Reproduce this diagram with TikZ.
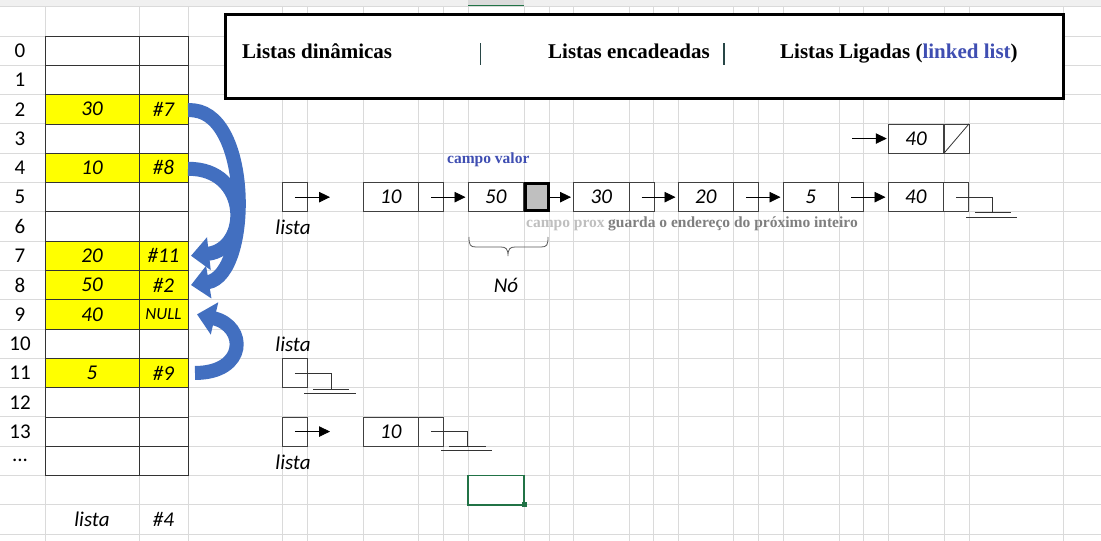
\documentclass[tikz,border=0pt]{standalone}
\usepackage{fontspec}
\setmainfont{Liberation Serif}
\newfontfamily\calfont{Carlito}
\usetikzlibrary{arrows.meta}
\definecolor{gridc}{RGB}{218,218,218}
\definecolor{yel}{RGB}{255,255,0}
\definecolor{arrblue}{RGB}{66,111,192}
\definecolor{hdrblue}{RGB}{63,78,178}
\definecolor{lgray}{RGB}{191,191,191}
\definecolor{mgray}{RGB}{127,127,127}
\definecolor{xlgreen}{RGB}{33,115,70}
\definecolor{sepc}{RGB}{40,70,70}
\tikzset{
 gridline/.style={draw=gridc, line width=0.9pt},
 tcell/.style={draw=black!80, line width=0.8pt, minimum height=29.3pt, inner sep=0pt, outer sep=0pt, font=\calfont\itshape\fontsize{21}{24}\selectfont},
 tcellA/.style={tcell, minimum width=94pt},
 tcellB/.style={tcell, minimum width=49pt},
 rownum/.style={font=\calfont\fontsize{21}{24}\selectfont, inner sep=0pt},
 valcell/.style={draw=black!75, fill=white, line width=0.8pt, minimum width=55.5pt, minimum height=29.3pt, inner sep=0pt, outer sep=0pt, font=\calfont\itshape\fontsize{21}{24}\selectfont},
 ptrcell/.style={draw=black!75, fill=white, line width=0.8pt, minimum width=25pt, minimum height=29.3pt, inner sep=0pt, outer sep=0pt},
 ptr/.style={draw=black, line width=0.8pt, -{Triangle[length=11pt,width=10.5pt]}},
 wire/.style={draw=black!80, line width=0.8pt},
 lbl/.style={font=\calfont\itshape\fontsize{21}{24}\selectfont, inner sep=0pt},
 bluearrow/.style={draw=arrblue, line width=14pt, -{Triangle[length=18pt,width=32pt]}},
 hdr/.style={font=\bfseries\fontsize{21}{24}\selectfont, inner sep=0pt, anchor=base west},
 note/.style={font=\bfseries\fontsize{15.5}{18}\selectfont, inner sep=0pt, anchor=base west},
}
\begin{document}
\begin{tikzpicture}[x=1pt,y=-1pt]
\useasboundingbox (0,0) rectangle (1101,541);
\fill[white] (0,0) rectangle (1101,541);
% top header strip
\fill[gray!12] (0,0) rectangle (1101,6);
\fill[gray!28] (468,0) rectangle (524,6);
\draw[xlgreen, line width=1.5pt] (468,5.5) -- (524,5.5);
% grid
\foreach \k in {-1,...,17} \draw[gridline] (0,{36+29.3*\k}) -- (1101,{36+29.3*\k});
\foreach \x in {45,139,188,282,307.5,363,418.5,443.5,468,524,549,573.5,629,653.5,678,733.5,758,783,839,863.5,888,944,969,1063}
  \draw[gridline] (\x,6) -- (\x,541);
% left table
\foreach \k/\v/\p/\f in {0/{}/{}/white,1/{}/{}/white,2/30/\#7/yel,3/{}/{}/white,4/10/\#8/yel,5/{}/{}/white,6/{}/{}/white,7/20/\#11/yel,8/50/\#2/yel,9/40/{\fontsize{17}{20}\selectfont NULL}/yel,10/{}/{}/white,11/5/\#9/yel,12/{}/{}/white,13/{}/{}/white,14/{}/{}/white}{
  \node[tcellA, fill=\f] (ca\k) at (92,{50.65+29.3*\k}) {\v};
  \node[tcellB, fill=\f] (cb\k) at (163.5,{50.65+29.3*\k}) {\p};
}
\foreach \k in {0,...,13} \node[rownum] (rn\k) at (20,{50.65+29.3*\k}) {\k};
\node[rownum] (rn14) at (20,{50.65+29.3*14}) {...};
\node[lbl] (tl) at (92,519.5) {lista};
\node[lbl] (tp) at (163.5,519.5) {\#4};
% blue curved arrows
\draw[bluearrow] ([yshift=-1pt]cb2.east) .. controls (252,106) and (252,275) .. ([xshift=3pt]cb8.east);
\draw[bluearrow] ([yshift=-1pt]cb4.east) .. controls (250,168) and (250,249) .. ([xshift=3pt]cb7.east);
\draw[bluearrow] ([xshift=7pt]cb11.east) .. controls (247,373) and (247,326) .. ([xshift=9pt]cb9.east);
% header box
\draw[line width=3pt, fill=white] (225,14) rectangle (1063,98);
\node[hdr] (h1) at (242,58) {Listas dinâmicas};
\node[hdr] (h2) at (548,58) {Listas encadeadas};
\node[hdr] (h3) at (780,58) {Listas Ligadas (\textcolor{hdrblue}{linked list})};
\draw[sepc, line width=1.3pt] (480.5,43) -- (480.5,65);
\draw[sepc, line width=1.3pt] (724,43) -- (724,65);
% main linked list
\node[ptrcell] (l1) at (294.75,197.15) {};
\coordinate (l1end) at (330,197.15);
\foreach \i/\b/\v in {1/363/10,2/468/50,3/573.5/30,4/678/20,5/783/5,6/888/40}{
  \node[valcell] (v\i) at (\b+27.75,197.15) {\v};
  \node[ptrcell] (p\i) at (\b+68,197.15) {};
}
\node[ptrcell, fill=lgray, draw=black, line width=3pt, minimum width=23pt, minimum height=27.5pt] (p2) at (536.5,197.15) {};
\draw[ptr] (l1.center) -- (l1end);
\draw[ptr, shorten >=2.5pt] (p1.center) -- (v2.west);
\draw[ptr, shorten >=2.5pt] (p2.east) -- (v3.west);
\draw[ptr, shorten >=2.5pt] (p3.center) -- (v4.west);
\draw[ptr, shorten >=2.5pt] (p4.center) -- (v5.west);
\draw[ptr, shorten >=2.5pt] (p5.center) -- (v6.west);
\coordinate (g1a) at (992,197.15);
\coordinate (g1b) at (992,212.3);
\draw[wire] (p6.center) -- (g1a) -- (g1b);
\draw[wire] (975,212.3) -- (1011,212.3);
\draw[wire] (966,217.3) -- (1017,217.3);
\node[lbl] (lista1) at (293,227) {lista};
% top single node
\node[valcell] (v7) at (916,138.55) {40};
\node[ptrcell] (p7) at (956.5,138.55) {};
\draw[wire] (p7.south west) -- (p7.north east);
\coordinate (a7) at (852,138.55);
\draw[ptr, shorten >=1.5pt] (a7) -- (v7.west);
% annotations
\node[note, text=hdrblue] (cv) at (447,163) {campo valor};
\node[note, text=lgray] (cp) at (526,227.5) {campo prox};
\node[note, text=mgray] (gd) at (608,227.5) {guarda o endereço do próximo inteiro};
\draw[black!65, line width=0.8pt] (469,237) .. controls (469,245) and (470,247) .. (476,247) -- (501,247) .. controls (506,247) and (508,249) .. (508,256) .. controls (508,249) and (510,247) .. (515,247) -- (541,247) .. controls (547,247) and (548,245) .. (548,237);
\node[lbl] (no) at (506,285) {Nó};
% empty list
\node[lbl] (lista2) at (293,344) {lista};
\node[ptrcell] (l2) at (294.75,372.95) {};
\coordinate (g2a) at (331,372.95);
\coordinate (g2b) at (331,389);
\draw[wire] (l2.center) -- (g2a) -- (g2b);
\draw[wire] (313,389) -- (349,389);
\draw[wire] (304,393.3) -- (356,393.3);
% one-element list
\node[ptrcell] (l3) at (294.75,431.55) {};
\coordinate (l3end) at (330,431.55);
\node[valcell] (v8) at (390.75,431.55) {10};
\node[ptrcell] (p8) at (431,431.55) {};
\draw[ptr] (l3.center) -- (l3end);
\coordinate (g3a) at (467,431.55);
\coordinate (g3b) at (467,446);
\draw[wire] (p8.center) -- (g3a) -- (g3b);
\draw[wire] (449,446) -- (486,446);
\draw[wire] (441,450.7) -- (492,450.7);
\node[lbl] (lista3) at (293,462) {lista};
% selected cell
\draw[xlgreen, line width=1.8pt] (468,475.5) rectangle (524,504.8);
\fill[xlgreen] (521.5,502.3) rectangle (526.5,507.3);
\end{tikzpicture}
\end{document}
